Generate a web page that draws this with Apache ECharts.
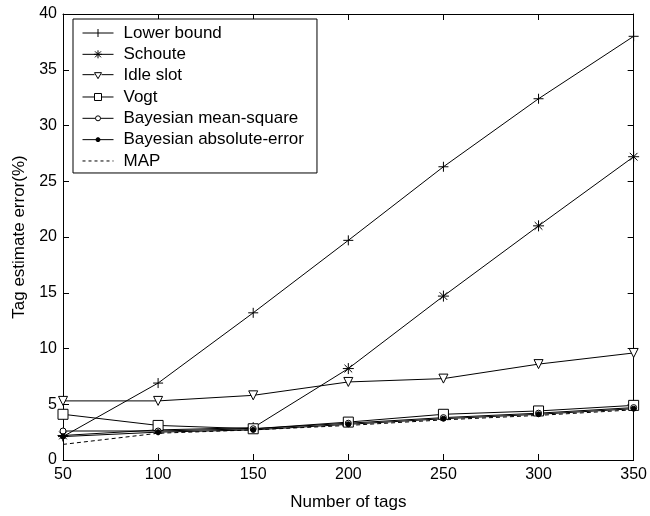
<!DOCTYPE html>
<html>
<head>
<meta charset="utf-8">
<script src="https://cdn.jsdelivr.net/npm/echarts@6/dist/echarts.min.js"></script>
<style>
html,body{margin:0;padding:0;background:#fff;}
#chart{width:650px;height:516px;}
</style>
</head>
<body>
<div id="chart"></div>
<script>
const tags = [50, 100, 150, 200, 250, 300, 350];
const lowerBound = [2.1, 6.9, 13.2, 19.7, 26.3, 32.4, 38.0];
const schoute = [2.2, 2.7, 2.9, 8.2, 14.7, 21.0, 27.2];
const idleSlot = [5.3, 5.3, 5.8, 7.0, 7.3, 8.6, 9.6];
const vogt = [4.1, 3.1, 2.8, 3.4, 4.1, 4.4, 4.9];
const bayesMS = [2.6, 2.6, 2.8, 3.3, 3.8, 4.2, 4.7];
const bayesAE = [2.1, 2.5, 2.7, 3.2, 3.7, 4.1, 4.6];
const mapEst = [1.4, 2.4, 2.7, 3.1, 3.6, 4.0, 4.5];
const seriesNames = ['Lower bound', 'Schoute', 'Idle slot', 'Vogt', 'Bayesian mean-square', 'Bayesian absolute-error', 'MAP'];
const xLabel = 'Number of tags';
const yLabel = 'Tag estimate error(%)';

const FONT = 'Liberation Sans, Arial, sans-serif';
const pair = arr => tags.map((t, i) => [t, arr[i]]);

// plot markers
const plusPath = 'path://M5,0L5,10M0,5L10,5';
const starPath = 'path://M5,0L5,10M0,5L10,5M1.5,1.5L8.5,8.5M8.5,1.5L1.5,8.5';
const triDown = 'path://M0,0L10,0L5,9Z';

// legend icons (line sample + marker), bbox 36x10
const BB = 'path://M0,0M36,10';
const legendIcons = [
  BB + 'M0,5L31,5M15.5,1L15.5,9',
  BB + 'M0,5L31,5M15.5,1L15.5,9M11.5,5L19.5,5M12.5,2L18.5,8M18.5,2L12.5,8',
  BB + 'M0,4L12,4M19,4L31,4M12,2L19,2L15.5,8Z',
  BB + 'M0,5L12,5M19,5L31,5M12,1.5L19,1.5L19,8.5L12,8.5Z',
  BB + 'M0,5L13,5M18,5L31,5M13,5A2.5,2.5,0,1,0,18,5A2.5,2.5,0,1,0,13,5Z',
  BB + 'M0,5L31,5M13.5,5A2,2,0,1,0,17.5,5A2,2,0,1,0,13.5,5Z',
  BB + 'M0,5L3,5M6,5L9,5M12,5L15,5M18,5L21,5M24,5L27,5M30,5L31,5'
];
const legendFills = ['#000', '#000', '#fff', '#fff', '#fff', '#000', '#000'];

function mk(name, data, symbol, size, fill, dashed) {
  return {
    name: name,
    type: 'line',
    data: pair(data),
    symbol: symbol,
    symbolSize: size,
    showSymbol: symbol !== 'none',
    animation: false,
    lineStyle: { color: '#000', width: 1, type: dashed ? [4, 3] : 'solid' },
    itemStyle: { color: fill, borderColor: '#000', borderWidth: 1 },
    emphasis: { disabled: true },
    z: 3
  };
}

const series = [
  mk(seriesNames[0], lowerBound, plusPath, 10, '#000', false),
  mk(seriesNames[1], schoute, starPath, 11, '#000', false),
  mk(seriesNames[2], idleSlot, triDown, 9, '#fff', false),
  mk(seriesNames[3], vogt, 'rect', 10, '#fff', false),
  mk(seriesNames[4], bayesMS, 'circle', 6, '#fff', false),
  mk(seriesNames[5], bayesAE, 'circle', 5, '#000', false),
  mk(seriesNames[6], mapEst, 'none', 0, '#000', true)
];

const axisCommon = {
  axisLine: { show: true, onZero: false, lineStyle: { color: '#000', width: 1 } },
  axisTick: { show: true, inside: true, length: 6, lineStyle: { color: '#000' } },
  splitLine: { show: false }
};

const chart = echarts.init(document.getElementById('chart'), null, { renderer: 'canvas' });
chart.setOption({
  backgroundColor: '#fff',
  animation: false,
  grid: { left: 63, right: 12, top: 14, bottom: 55, containLabel: false },
  legend: {
    data: seriesNames.map((n, i) => ({
      name: n,
      icon: legendIcons[i],
      itemStyle: { color: legendFills[i], borderColor: '#000', borderWidth: 1 }
    })),
    orient: 'vertical',
    left: 73,
    top: 19,
    itemWidth: 36,
    itemHeight: 10,
    itemGap: 4.33,
    symbolKeepAspect: false,
    padding: [5.5, 13, 3.5, 9],
    backgroundColor: '#fff',
    borderColor: '#000',
    borderWidth: 1,
    borderRadius: 0,
    textStyle: { fontFamily: FONT, fontSize: 17, lineHeight: 17, color: '#000' },
    selectedMode: false
  },
  xAxis: [
    Object.assign({
      type: 'value', min: 50, max: 350, interval: 50, position: 'bottom',
      name: xLabel, nameLocation: 'middle', nameGap: 34,
      nameTextStyle: { fontFamily: FONT, fontSize: 17, color: '#000' },
      axisLabel: { fontFamily: FONT, fontSize: 16, color: '#000', margin: 7 }
    }, axisCommon),
    Object.assign({
      type: 'value', min: 50, max: 350, interval: 50, position: 'top',
      axisLabel: { show: false }
    }, axisCommon)
  ],
  yAxis: [
    Object.assign({
      type: 'value', min: 0, max: 40, interval: 5, position: 'left',
      name: yLabel, nameLocation: 'middle', nameGap: 34,
      nameTextStyle: { fontFamily: FONT, fontSize: 17, color: '#000' },
      axisLabel: { fontFamily: FONT, fontSize: 16, color: '#000', margin: 6 }
    }, axisCommon),
    Object.assign({
      type: 'value', min: 0, max: 40, interval: 5, position: 'right',
      axisLabel: { show: false }
    }, axisCommon)
  ],
  series: series
});
</script>
</body>
</html>
